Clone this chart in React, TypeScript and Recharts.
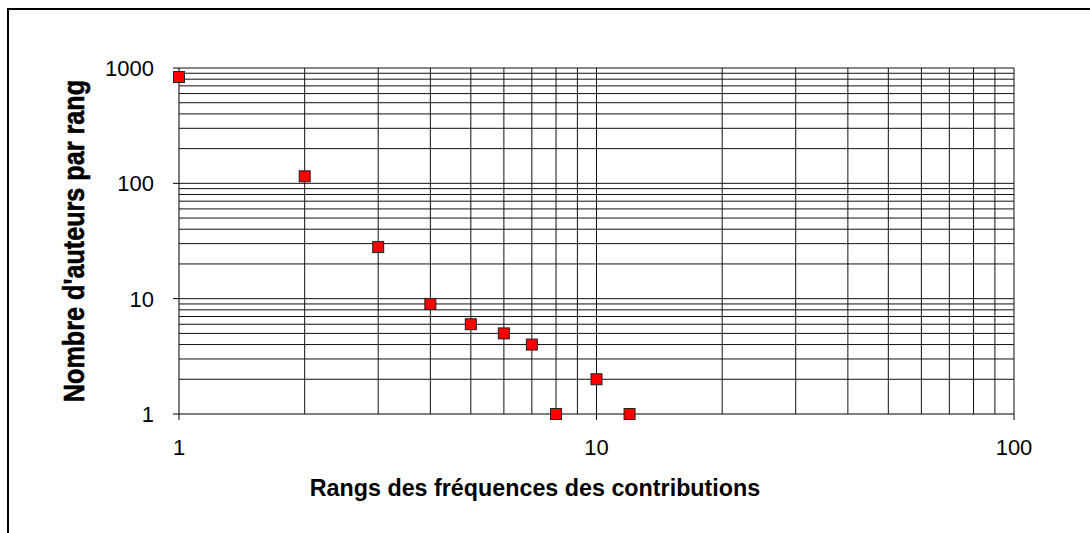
import React from "react";
import {
  ScatterChart, Scatter, XAxis, YAxis, ReferenceLine,
} from "recharts";

// rang des fréquences / nombre d'auteurs
const ranks = [1, 2, 3, 4, 5, 6, 7, 8, 10, 12];
const authors = [835, 115, 28, 9, 6, 5, 4, 1, 2, 1];

const xTicks = [1, 10, 100];
const yTicks = [1, 10, 100, 1000];
const xGrid = [2, 3, 4, 5, 6, 7, 8, 9, 10, 20, 30, 40, 50, 60, 70, 80, 90, 100];
const yGrid = [
  2, 3, 4, 5, 6, 7, 8, 9, 10,
  20, 30, 40, 50, 60, 70, 80, 90, 100,
  200, 300, 400, 500, 600, 700, 800, 900, 1000,
];

const data = ranks.map((r, i) => ({ x: r, y: authors[i] }));

const FONT = "'Liberation Sans', Arial, sans-serif";

function XTick({ x, y, payload }: any) {
  return (
    <text x={x} y={y} dy={33} textAnchor="middle" fontSize={22} fontFamily={FONT} fill="#000">
      {payload.value}
    </text>
  );
}

function YTick({ x, y, payload }: any) {
  return (
    <text x={x} y={y} dx={-17} dy={8} textAnchor="end" fontSize={22} fontFamily={FONT} fill="#000">
      {payload.value}
    </text>
  );
}

function Marker({ cx, cy }: any) {
  if (cx == null || cy == null) return null;
  return <rect x={cx - 5.5} y={cy - 5.5} width={11} height={11} fill="#ff0000" stroke="#222" strokeWidth={1} />;
}

function XTitle({ viewBox }: any) {
  return (
    <text x={viewBox.x + 356} y={viewBox.y + 82} textAnchor="middle" fontSize={23.3} fontWeight="bold" fontFamily={FONT} fill="#000">
      Rangs des fréquences des contributions
    </text>
  );
}

function YTitle({ viewBox }: any) {
  const cy = viewBox.y + viewBox.height / 2;
  return (
    <text
      transform={`translate(83.5,${cy}) rotate(-90) scale(0.84,1)`}
      textAnchor="middle" fontSize={30} fontWeight="bold" fontFamily={FONT} fill="#000"
      stroke="#000" strokeWidth={0.6}
    >
      Nombre d'auteurs par rang
    </text>
  );
}

export default function App() {
  return (
    <>
      <style>{`body{margin:0;overflow:hidden;background:#fff}`}</style>
      <div style={{
        position: "absolute", left: 7, top: 8, width: 1083, height: 525,
        borderTop: "2px solid #000", borderLeft: "2px solid #000", boxSizing: "border-box",
      }} />
      <div style={{ position: "absolute", left: 0, top: 0 }}>
        <ScatterChart width={1090} height={533} margin={{ top: 68, right: 76, left: 0, bottom: 0 }}>
          {yGrid.map((v) => (
            <ReferenceLine key={"y" + v} y={v} stroke="#111" strokeWidth={1} />
          ))}
          {xGrid.map((v) => (
            <ReferenceLine key={"x" + v} x={v} stroke="#111" strokeWidth={1} />
          ))}
          <XAxis
            dataKey="x" type="number" scale="log" domain={[1, 100]} ticks={xTicks}
            height={119} tickSize={6} stroke="#000"
            tick={<XTick />} label={{ content: <XTitle /> } as any}
          />
          <YAxis
            dataKey="y" type="number" scale="log" domain={[1, 1000]} ticks={yTicks}
            width={179} tickSize={6} stroke="#000"
            tick={<YTick />} label={{ content: <YTitle /> } as any}
          />
          <Scatter data={data} shape={<Marker />} isAnimationActive={false} />
        </ScatterChart>
      </div>
    </>
  );
}
